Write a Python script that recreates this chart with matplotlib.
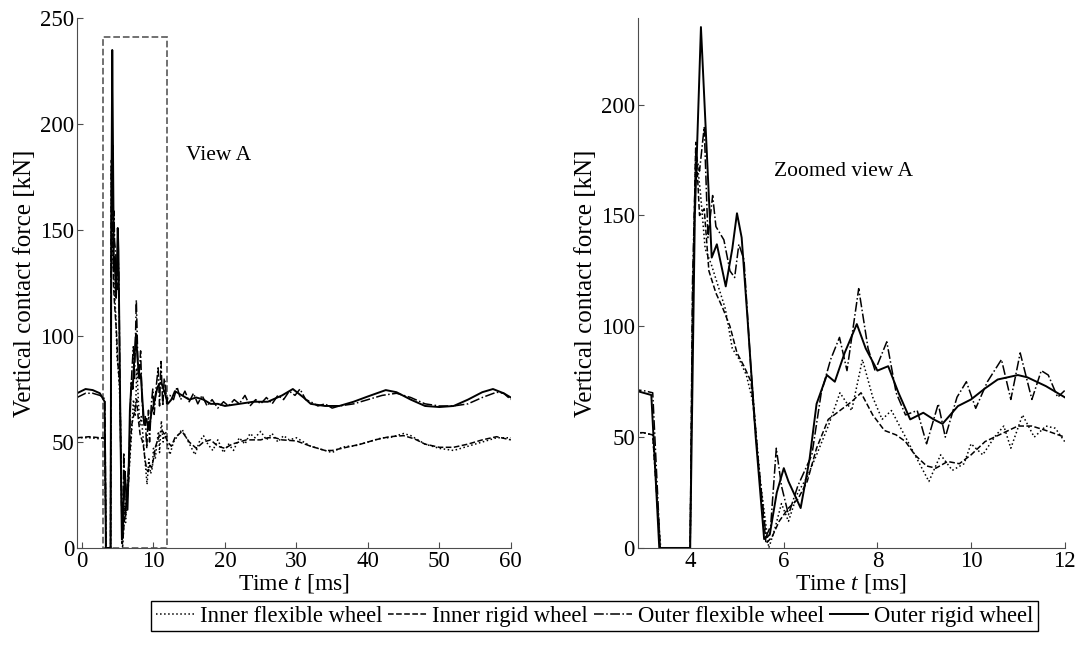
import matplotlib
matplotlib.use('Agg')
import matplotlib.pyplot as plt
import matplotlib.patches as patches

plt.rcParams['font.family'] = 'Liberation Serif'
plt.rcParams['mathtext.fontset'] = 'custom'
plt.rcParams['mathtext.rm'] = 'Liberation Serif'
plt.rcParams['mathtext.it'] = 'Liberation Serif:italic'
plt.rcParams['font.size'] = 16

# Impact phase, 0-12 ms (shown in both panels)
t_ir = [-0.7, 1.0, 2.5, 3.0, 3.2, 3.36, 4.0, 4.05, 4.12, 4.2, 4.3, 4.4, 4.55, 4.7, 4.85, 5.0, 5.15, 5.3,
        5.45, 5.62, 5.75, 5.9, 6.1, 6.3, 6.5, 6.7, 6.95, 7.2, 7.45, 7.65, 7.9, 8.15, 8.4, 8.6, 8.8, 9.05,
        9.25, 9.5, 9.75, 10.0, 10.3, 10.6, 11.0, 11.3, 11.6, 12.0]
f_ir = [52, 52.5, 52, 52, 51, 0, 0, 110, 183, 150, 153, 125, 115, 108, 100, 88, 82, 75,
        40, 2, 5, 12, 18, 22, 30, 45, 58, 62, 66, 70, 60, 53, 51, 48, 42, 37,
        36, 39, 38, 42, 48, 51, 55, 55, 53, 50]

t_if = [-0.7, 1.0, 2.5, 3.0, 3.2, 3.37, 4.0, 4.05, 4.12, 4.22, 4.32, 4.45, 4.6, 4.75, 4.9, 5.05, 5.2, 5.35,
        5.5, 5.68, 5.8, 5.95, 6.1, 6.3, 6.5, 6.7, 6.95, 7.2, 7.45, 7.68, 7.9, 8.1, 8.3, 8.55, 8.8, 9.1,
        9.35, 9.6, 9.85, 10.0, 10.25, 10.5, 10.7, 10.85, 11.1, 11.35, 11.6, 11.8, 12.0]
f_if = [52, 52, 51.5, 52, 51, 0, 0, 100, 180, 160, 135, 128, 118, 108, 90, 85, 78, 65,
        30, 0, 8, 20, 12, 25, 32, 42, 55, 70, 62, 85, 68, 58, 62, 52, 42, 30,
        42, 35, 38, 47, 42, 50, 55, 45, 60, 50, 55, 54, 48]

t_of = [-0.7, 0.5, 1.5, 2.5, 3.0, 3.2, 3.36, 4.0, 4.05, 4.12, 4.2, 4.3, 4.38, 4.48, 4.55, 4.72, 4.85, 4.95,
        5.04, 5.15, 5.3, 5.45, 5.62, 5.72, 5.84, 5.95, 6.1, 6.3, 6.45, 6.6, 6.8, 7.0, 7.19, 7.35, 7.6,
        7.8, 7.95, 8.2, 8.4, 8.6, 8.85, 9.05, 9.3, 9.45, 9.7, 9.9, 10.1, 10.35, 10.65, 10.85, 11.05, 11.3,
        11.5, 11.65, 11.85, 12.0]
f_of = [71, 73, 73, 72, 71, 70, 0, 0, 120, 178, 170, 190, 140, 159, 145, 139, 125, 122,
        137, 130, 80, 40, 5, 10, 45, 28, 15, 28, 35, 42, 70, 85, 95, 80, 117,
        90, 80, 93, 70, 60, 62, 47, 65, 50, 68, 75, 63, 75, 85, 67, 88, 67,
        80, 78, 68, 71]

t_or = [-0.7, 0.5, 1.5, 2.5, 3.0, 3.17, 3.34, 4.0, 4.1, 4.23, 4.33, 4.46, 4.57, 4.76, 4.9, 5.0, 5.1, 5.22,
        5.4, 5.58, 5.7, 5.85, 6.0, 6.1, 6.36, 6.55, 6.7, 6.92, 7.09, 7.3, 7.56, 7.75, 8.0, 8.23, 8.45,
        8.7, 8.98, 9.2, 9.39, 9.72, 10.0, 10.3, 10.57, 11.0, 11.2, 11.6, 12.0]
f_or = [73, 75, 74.5, 73, 70, 69, 0, 0, 150, 235, 190, 131, 137, 118, 135, 151, 140, 105,
        50, 4, 6, 25, 36, 30, 18, 40, 65, 78, 75, 88, 101, 90, 80, 82, 70,
        58, 61, 58, 56, 64, 67, 72, 76, 78, 77, 73, 68]

# Settling phase, 12-60 ms (left panel only)
t_ir_late = [12.5, 13, 14, 15, 16, 17, 18, 19, 20, 21, 22, 23, 24, 25, 26, 27, 28, 30, 32, 34, 35, 37, 39,
             41, 43, 45, 46.5, 48, 50, 52, 54, 56, 58, 60]
f_ir_late = [48, 52, 55, 50, 47, 50, 51, 48, 47, 49, 50, 51, 51, 51, 52, 52, 51, 50.5, 48, 46, 46, 47.5, 49,
             51, 52.5, 53, 51.5, 49, 47.5, 47.5, 49, 51, 52.5, 51]

t_if_late = [12.3, 12.8, 13.4, 14, 14.6, 15.2, 15.8, 16.4, 17, 17.6, 18.3, 19, 19.8, 20.5, 21.2, 22, 22.8,
             23.5, 24.2, 25, 25.8, 26.6, 27.4, 28.2, 29, 30, 31, 32, 33, 34, 35, 36, 37, 38, 39, 40, 41,
             42, 43, 44, 45, 46, 47, 48, 49, 50, 52, 54, 56, 58, 60]
f_if_late = [44, 50, 53, 56, 52, 48, 44, 50, 53, 49, 46, 51, 45, 49, 46, 52, 49,
             54, 52, 55, 51, 54, 50, 53, 51, 52, 50, 48, 47, 46, 45, 47, 48, 48, 49, 50, 51,
             52, 52, 53, 54, 53, 51, 49, 48, 47, 46, 48, 50, 52, 52]

t_of_late = [12.3, 12.8, 13.3, 13.8, 14.4, 15, 15.6, 16.2, 16.8, 17.5, 18.2, 19, 19.8, 20.5, 21.3, 22, 22.8,
             23.5, 24.3, 25, 25.8, 26.6, 27.4, 28.2, 29, 29.8, 30.5, 31.3, 32, 33, 34, 35, 36, 38, 40, 42,
             44, 46, 48, 50, 52, 54, 56, 58, 59, 60]
f_of_late = [72, 70, 76, 70, 74, 69, 73, 68, 72, 67, 70, 66, 69, 67, 70, 68, 72,
             67, 70, 68, 71, 68, 72, 70, 74, 72, 75, 70, 69, 67, 68, 66, 67, 68, 70, 72,
             73, 71, 68, 67, 67, 68, 71, 73.5, 73, 70]

t_or_late = [12.5, 13, 14, 15, 16, 17, 18, 19, 20, 22, 24, 26, 28, 29.5, 31, 32, 34, 36, 38, 40, 42.5, 44,
             46, 48, 50, 52, 54, 56, 57.5, 59, 60]
f_or_late = [70, 74, 72, 70, 71, 70, 68, 68, 67, 68, 69, 69, 72, 75, 71, 68, 67, 67, 69, 71.5, 74.5, 73.5,
             70, 67, 66.5, 67, 70, 73.5, 75, 73, 71]

labels = ['Inner flexible wheel', 'Inner rigid wheel', 'Outer flexible wheel', 'Outer rigid wheel']
styles = [':', '--', '-.', '-']
widths = [1.1, 1.1, 1.1, 1.4]

early = [(t_if, f_if), (t_ir, f_ir), (t_of, f_of), (t_or, f_or)]
late = [(t_if_late, f_if_late), (t_ir_late, f_ir_late), (t_of_late, f_of_late), (t_or_late, f_or_late)]

fig = plt.figure(figsize=(10.8, 6.5), dpi=100)
ax1 = fig.add_axes([0.0713, 0.157, 0.4017, 0.815])
ax2 = fig.add_axes([0.5905, 0.157, 0.3953, 0.815])

for (te, fe), (tl, fl), ls, lw in zip(early, late, styles, widths):
    ax1.plot(te + tl, fe + fl, color='black', linestyle=ls, linewidth=lw)
for (te, fe), ls, lw, lab in zip(early, styles, widths, labels):
    ax2.plot(te, fe, color='black', linestyle=ls, linewidth=lw, label=lab)

# box marking the zoomed region
ax1.add_patch(patches.Rectangle((2.95, 0), 9.0, 241, fill=False, edgecolor='0.4',
                                linestyle='--', linewidth=1.3))
ax1.text(14.6, 185, 'View A', va='center', ha='left', fontsize=15.5)
ax2.text(5.8, 170, 'Zoomed view A', va='center', ha='left', fontsize=15.5)

ax1.set_xlim(-0.7, 60)
ax1.set_ylim(0, 250)
ax1.set_xticks(range(0, 61, 10))
ax1.set_yticks(range(0, 251, 50))
ax2.set_xlim(2.88, 12)
ax2.set_ylim(0, 239)
ax2.set_xticks([4, 6, 8, 10, 12])
ax2.set_yticks([0, 50, 100, 150, 200])

for ax in (ax1, ax2):
    ax.spines['top'].set_visible(False)
    ax.spines['right'].set_visible(False)
    ax.spines['left'].set_color('0.3')
    ax.spines['bottom'].set_color('0.3')
    ax.tick_params(direction='in', length=4, color='0.3', labelsize=16.5, pad=2)
    ax.set_xlabel('Time $t$ [ms]', fontsize=17, labelpad=0)
    ax.set_ylabel('Vertical contact force [kN]', fontsize=18, labelpad=3)

fig.legend(*ax2.get_legend_handles_labels(), loc='center', bbox_to_anchor=(0.5505, 0.052), ncol=4,
           frameon=True, fancybox=False, edgecolor='black', fontsize=16.3, handlelength=1.7,
           handletextpad=0.25, columnspacing=0.25, borderpad=0.2, borderaxespad=0.2, framealpha=1)

plt.savefig('out.png')
